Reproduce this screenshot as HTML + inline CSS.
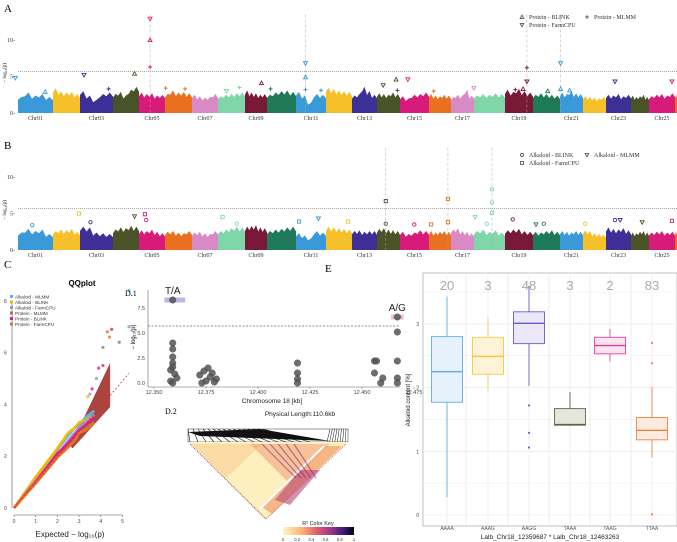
<!DOCTYPE html>
<html><head><meta charset="utf-8"><style>
body{margin:0;background:#fff;width:677px;height:542px;overflow:hidden}
svg{display:block;font-family:"Liberation Sans",sans-serif}
.serif{font-family:"Liberation Serif",serif}
</style></head><body>
<svg id="fig" width="677" height="542" viewBox="0 0 677 542">
<defs>
<linearGradient id="rkey" x1="0" x2="1" y1="0" y2="0">
<stop offset="0" stop-color="#fff5c0"/><stop offset="0.25" stop-color="#fbb878"/><stop offset="0.45" stop-color="#e8646a"/><stop offset="0.65" stop-color="#a63a86"/><stop offset="0.85" stop-color="#3d1c7a"/><stop offset="1" stop-color="#000004"/></linearGradient>
</defs>
<text x="4" y="12" font-size="11" class="serif">A</text>
<text x="4" y="149" font-size="11" class="serif">B</text>
<text x="4" y="268" font-size="11" class="serif">C</text>
<text x="325" y="272" font-size="11" class="serif">E</text>
<g id="gA"></g><g id="gB"></g><g id="gC"></g><g id="gD"></g><g id="gE"></g>
</svg>
<script>
// ---------- data ----------
const chrNames=["Chr01","Chr02","Chr03","Chr04","Chr05","Chr06","Chr07","Chr08","Chr09","Chr10","Chr11","Chr12","Chr13","Chr14","Chr15","Chr16","Chr17","Chr18","Chr19","Chr20","Chr21","Chr22","Chr23","Chr24","Chr25","Chr26"];
const chrStarts=[18,53,80,113,139,165,192,218,245,267,296,326,352,377,400,429,451,474,505,533,560,583,606,631,649,675,677];
const chrColors=["#3a9ad9","#f5c02a","#3d2f96","#4a5228","#d81b7a","#e8701f","#d98ac4","#7fd6a8","#7a1838","#1f7a5a"];
const heightsA=[[2.2,2.8,2.4,2.6,2.2],[3.4,3.0,2.8,2.9,2.6],[3.0,2.4,1.8,2.6,2.8],[2.6,2.9,2.4,3.2,3.6],[2.8,2.6,2.7,2.4,2.5],[2.6,3.1,2.8,2.9,2.7],[2.5,2.3,2.1,2.2,2.6],[2.3,2.5,2.6,2.7,2.8],[3.1,2.8,2.7,2.5,2.6],[2.5,2.8,3.0,3.1,2.9],[2.9,2.4,1.4,2.6,2.5],[3.5,3.3,3.1,3.0,2.9],[2.4,2.6,3.6,3.0,2.5],[2.7,2.6,2.5,2.8,2.6],[2.3,2.0,2.5,2.6,2.8],[2.6,2.4,2.3,2.5,2.4],[2.2,2.5,2.4,3.2,2.4],[2.4,2.6,2.5,2.7,2.6],[3.2,2.9,3.3,3.0,2.8],[2.5,2.7,2.6,2.5,2.4],[2.8,2.6,3.0,2.7,2.6],[2.3,2.2,2.1,2.0,2.2],[2.5,2.4,2.6,2.3,2.5],[2.4,2.2,2.3,2.5,2.2],[2.3,2.5,2.6,2.4,2.7],[2.5,2.6,2.4,2.6,2.5]];
const heightsB=[[2.4,2.9,2.6,2.8,2.2],[2.6,2.8,2.7,2.9,2.5],[3.2,3.1,2.4,2.3,2.2],[2.8,3.1,3.0,3.3,3.2],[2.7,2.6,2.8,2.5,2.3],[2.5,2.6,2.4,2.3,2.6],[2.4,2.5,2.3,2.2,2.6],[2.6,2.8,3.0,3.2,3.1],[3.2,3.3,3.4,3.1,3.0],[2.6,2.8,2.9,3.1,3.2],[2.3,2.0,1.6,2.6,2.4],[3.2,3.1,3.0,2.9,2.8],[2.6,2.7,2.5,2.6,2.6],[2.9,3.0,2.8,2.7,2.6],[2.5,2.2,2.4,2.7,2.6],[2.6,2.4,2.5,2.6,2.5],[2.8,3.0,2.6,2.5,2.3],[2.6,2.8,2.5,2.7,2.4],[2.7,2.8,2.9,2.6,2.5],[2.5,2.4,2.6,2.7,2.5],[2.6,2.5,2.4,2.6,2.5],[2.7,2.6,2.3,2.2,2.1],[3.1,2.9,2.8,3.0,2.7],[2.4,2.3,2.5,2.6,2.4],[2.4,2.5,2.6,2.4,2.5],[2.5,2.6,2.4,2.6,2.5]];
// markers: genome position (genome units), -log10 p, shape
const markAx=[12,35,65,84,104,116,116,116,128,143,175,185,202,209,236,236,236,248,296,306,307,315,335,366,398,404,407,407,423,433,433,440,475,519];
const markAy=[4.8,2.9,5.2,3.3,5.4,12.9,10.0,6.3,3.4,3.3,3.0,3.5,4.1,3.3,6.8,4.9,3.2,3.1,3.8,4.6,3.1,4.6,3.0,3.4,3.2,3.3,6.2,4.3,3.0,6.8,3.3,3.1,4.3,4.3];
const markAs=["d","u","d","p","u","d","u","p","p","p","d","p","u","p","d","u","p","p","d","u","p","d","p","d","p","u","p","d","u","d","u","u","d","d"];
const sigA=[116,236,407,433];
const markBx=[25,61,70,104,112,113,172,183,231,246,269,298,298,320,333,346,346,367,376,380,380,380,396,414,420,452,475,479,496,519];
const markBy=[3.4,5.0,3.8,4.6,4.9,4.1,4.5,3.6,3.9,4.3,3.9,6.7,3.6,3.5,3.5,7.0,3.8,4.5,3.6,8.3,6.5,5.1,4.2,3.5,3.6,3.6,4.1,4.1,3.8,4.0];
const markBs=["c","s","c","d","s","c","s","c","s","d","s","s","c","c","s","s","s","d","c","c","c","s","c","d","c","c","c","d","d","s"];
const sigB=[298,346,380];
// QQ
const qqExp=[0,0.5,1,1.5,2,2.5,2.8,3.0,3.3,3.7];
const qqSeries=[
 {name:"Alkaloid - MLMM",color:"#5ab4ea",obs:[0,0.55,1.1,1.65,2.25,2.8,3.1,3.2,3.5,3.75]},
 {name:"Alkaloid - BLINK",color:"#f5b800",obs:[0,0.6,1.2,1.75,2.3,2.9,3.1,3.3,3.4,3.6]},
 {name:"Alkaloid - FarmCPU",color:"#9b8fd6",obs:[0,0.52,1.05,1.55,2.05,2.6,2.9,3.1,3.3,3.6]},
 {name:"Protein - MLMM",color:"#7a8a5a",obs:[0,0.5,1.0,1.5,2.0,2.4,2.7,2.9,3.1,3.3]},
 {name:"Protein - BLINK",color:"#e0207e",obs:[0,0.5,1.0,1.55,2.1,2.5,2.8,3.0,3.2,3.5]},
 {name:"Protein - FarmCPU",color:"#e8701f",obs:[0,0.48,0.95,1.45,1.95,2.35,2.6,2.9,3.0,3.3]}];
const qqTopX=[5.3,4.3,4.4,4.5,4.1,4.85,5.3,3.9,4.1,3.8,3.6,3.5,3.4];
const qqTopY=[8.4,6.8,6.6,6.9,6.2,6.4,7.0,5.4,5.5,5.0,4.6,4.4,4.3];
const qqTopC=[0,5,5,4,3,3,2,4,4,2,4,2,1];
// D.1
const dKb=[12.359,12.359,12.359,12.359,12.359,12.359,12.358,12.360,12.361,12.358,12.359,12.376,12.374,12.378,12.372,12.377,12.380,12.375,12.373,12.379,12.419,12.419,12.419,12.419,12.456,12.457,12.460,12.456,12.459,12.467,12.467,12.467,12.467,12.467];
const dLog=[8.3,4.0,3.4,2.6,2.0,1.6,1.3,0.9,0.5,0.2,0.0,1.5,1.2,1.0,0.8,0.6,0.4,0.2,0.0,0.1,2.0,1.0,0.4,0.0,2.2,2.2,0.5,1.0,0.0,6.6,5.1,2.2,0.5,0.0];
const dTicks=[12.350,12.375,12.400,12.425,12.450,12.475];
const dYTicks=[0,2.5,5,7.5];
// E
const eCats=["AAAA","AAAG","AAGG","TAAA","TAAG","TTAA"];
const eCounts=["20","3","48","3","2","83"];
const eMin=[0.28,1.95,2.03,1.40,2.41,0.90];
const eQ1=[1.77,2.21,2.69,1.41,2.53,1.18];
const eMed=[2.25,2.49,3.01,1.42,2.66,1.33];
const eQ3=[2.80,2.79,3.19,1.67,2.79,1.53];
const eMax=[3.43,3.10,3.60,1.93,2.92,2.01];
const eOutCat=[2,2,2,5,5,5];
const eOutVal=[1.72,1.29,1.06,2.70,2.38,0.01];
const eColors=["#5aaee0","#f5c84a","#6a5acd","#5a6640","#e040a0","#f08040"];
const eFills=["#e6f1fb","#fdf3d6","#ebe7f6","#e4e6dc","#fbe3ef","#fdebdf"];
const eYTicks=[0,1,2,3];

// ---------- helpers ----------
const NS="http://www.w3.org/2000/svg";
function mk(parent,tag,a){const e=document.createElementNS(NS,tag);for(const k in a)e.setAttribute(k,a[k]);parent.appendChild(e);return e;}
function txt(parent,x,y,s,a){const e=mk(parent,"text",Object.assign({x:x,y:y},a||{}));e.textContent=s;return e;}
function shape(g,x,y,s,c,r){
 let e;
 if(s==="u")e=mk(g,"polygon",{points:`${x},${y-r} ${x-r},${y+r*0.8} ${x+r},${y+r*0.8}`,fill:"none",stroke:c,"stroke-width":0.9});
 else if(s==="d")e=mk(g,"polygon",{points:`${x},${y+r} ${x-r},${y-r*0.8} ${x+r},${y-r*0.8}`,fill:"none",stroke:c,"stroke-width":0.9});
 else if(s==="p")e=mk(g,"path",{d:`M${x-r} ${y}H${x+r}M${x} ${y-r}V${y+r}`,stroke:c,"stroke-width":1});
 else if(s==="s")e=mk(g,"rect",{x:x-r*0.8,y:y-r*0.8,width:r*1.6,height:r*1.6,fill:"none",stroke:c,"stroke-width":0.9});
 else if(s==="c")e=mk(g,"circle",{cx:x,cy:y,r:r*0.85,fill:"none",stroke:c,"stroke-width":0.9});
 else e=mk(g,"polygon",{points:`${x},${y-r} ${x+r},${y} ${x},${y+r} ${x-r},${y}`,fill:"none",stroke:c,"stroke-width":0.9});
 return e;
}
const gx=u=>18+(u-14)*1.295;
function chrOf(x){for(let i=0;i<chrStarts.length-1;i++)if(x<chrStarts[i+1])return i;return 0;}

// ---------- Manhattan ----------
function manhattan(gid,y0,heights,mx,my,ms,sig,sigTop,legend,ly){
 const g=document.getElementById(gid);
 const Y=v=>y0-7.3*v;
 [0,5,10].forEach(t=>{
  const tl=txt(g,15,Y(t)+2,t+"-",{"font-size":6,"text-anchor":"end",class:"serif",fill:"#333"});
  
  
 });
 const yl=txt(g,6,Y(5.5),"− log₁₀(p)",{"font-size":5,transform:`rotate(-90 6 ${Y(5.5)})`,"text-anchor":"middle",class:"serif"});
 
 
 for(let i=0;i<chrNames.length;i++){
  const x0=chrStarts[i],x1=chrStarts[i+1],h=heights[i],n=h.length,w=(x1-x0);
  let pts=`${x0},${Y(0)} `;
  for(let j=0;j<n;j++){const xx=x0+w*(j+0.5)/n;pts+=`${xx-w/(2*n)},${Y(h[j]*0.82)} ${xx},${Y(h[j])} `;}
  pts+=`${x1},${Y(h[n-1]*0.8)} ${x1},${Y(0)}`;
  const p=mk(g,"polygon",{points:pts,fill:chrColors[i%10]});
  
  
  if(i%2===0&&i<25){
   const t=txt(g,(x0+x1)/2,Y(0)+7,chrNames[i],{"font-size":6,"text-anchor":"middle",class:"serif",fill:"#333"});
   
   
  }
 }
 const th=mk(g,"line",{x1:18,x2:677,y1:Y(5.7),y2:Y(5.7),stroke:"#888","stroke-width":0.7,"stroke-dasharray":"1,1"});
 
 
 sig.forEach(x=>{
  const l=mk(g,"line",{x1:gx(x),x2:gx(x),y1:Y(sigTop),y2:Y(0),stroke:"#aaa","stroke-width":0.5,"stroke-dasharray":"3,2"});
  
  
 });
 for(let i=0;i<mx.length;i++){
  const px=gx(mx[i]);
  const e=shape(g,px,Y(my[i]),ms[i],chrColors[chrOf(px)%10],2);
  
  
 }
 legend.forEach((L,i)=>{
  const lx=L[2],yy=ly+L[3];
  shape(g,lx,yy-2,L[1],"#555",1.8);
  const t=txt(g,lx+7,yy,L[0],{"font-size":6,class:"serif",fill:"#333"});
  
  
 });
}
manhattan("gA",113,heightsA,markAx,markAy,markAs,sigA,13.5,[["Protein - BLINK","u",522,0],["Protein - FarmCPU","d",522,8],["Protein - MLMM","p",587,0]],19);
manhattan("gB",250,heightsB,markBx,markBy,markBs,sigB,14,[["Alkaloid - BLINK","c",522,0],["Alkaloid - FarmCPU","s",522,8],["Alkaloid - MLMM","d",587,0]],157);

// ---------- QQ ----------
(function(){
 const g=document.getElementById("gC");
 const X=v=>14+21.7*v,Y=v=>508-25.9*v;
 txt(g,82,286,"QQplot",{"font-size":8,"font-weight":"bold","text-anchor":"middle"});
 mk(g,"line",{x1:12,y1:Y(0),x2:12,y2:Y(8),stroke:"#555","stroke-width":0.6});
 mk(g,"line",{x1:X(0),y1:515,x2:X(5),y2:515,stroke:"#555","stroke-width":0.6});
 [0,2,4,6,8].forEach(t=>{txt(g,4,Y(t)+2,String(t),{"font-size":5,fill:"#444"});});
 [0,1,2,3,4,5].forEach(t=>{mk(g,"line",{x1:X(t),x2:X(t),y1:515,y2:517,stroke:"#555","stroke-width":0.5});txt(g,X(t),523,String(t),{"font-size":5,"text-anchor":"middle",fill:"#444"});});
 const xl=txt(g,70,537,"Expected   − log₁₀(p)",{"font-size":8,"text-anchor":"middle",fill:"#222"});
 
 
 const band=mk(g,"polygon",{points:`${X(2.6)},${Y(2.4)} ${X(4.43)},${Y(5.6)} ${X(4.43)},${Y(3.9)} ${X(2.7)},${Y(2.3)}`,fill:"#a0302a",opacity:0.9});
 
 
 qqSeries.forEach(s=>{
  const pts=qqExp.map((e,i)=>`${X(e)},${Y(s.obs[i])}`).join(" ");
  const pl=mk(g,"polyline",{points:pts,fill:"none",stroke:s.color,"stroke-width":2.6,"stroke-linejoin":"round"});
  
  
 });
 for(let i=0;i<qqTopX.length;i++){
  const c=mk(g,"circle",{cx:X(qqTopX[i]),cy:Y(qqTopY[i]),r:1.6,fill:qqSeries[qqTopC[i]].color,opacity:0.8});
  
  
 }
 mk(g,"line",{x1:X(0),y1:Y(0),x2:X(5.3),y2:Y(5.2),stroke:"#e53030","stroke-width":0.8,"stroke-dasharray":"2,2"});
 qqSeries.forEach((s,i)=>{
  mk(g,"rect",{x:10,y:295+i*5.5,width:3,height:3,fill:s.color});
  const t=txt(g,15,298.5+i*5.5,s.name,{"font-size":4.6,fill:"#333"});
  
  
 });
})();

// ---------- D.1 / D.2 ----------
(function(){
 const g=document.getElementById("gD");
 const X=kb=>154+(kb-12.350)*2080,Y=v=>383-10*v;
 txt(g,125,296,"D.1",{"font-size":8,class:"serif"});
 mk(g,"line",{x1:148,y1:290,x2:148,y2:387,stroke:"#666","stroke-width":0.6});
 mk(g,"line",{x1:148,y1:387,x2:400,y2:387,stroke:"#666","stroke-width":0.6});
 dYTicks.forEach(t=>{txt(g,145,Y(t)+2,t.toFixed(1),{"font-size":5.5,"text-anchor":"end",fill:"#444"});});
 dTicks.forEach(t=>{mk(g,"line",{x1:X(t),x2:X(t),y1:387,y2:389,stroke:"#666","stroke-width":0.5});txt(g,X(t),394,t.toFixed(3),{"font-size":5.5,"text-anchor":"middle",fill:"#444"});});
 txt(g,135,337,"− log₁₀(p)",{"font-size":6,transform:"rotate(-90 135 337)","text-anchor":"middle"});
 txt(g,272,403,"Chromosome 18 [kb]",{"font-size":6.5,"text-anchor":"middle",fill:"#222"});
 mk(g,"line",{x1:148,x2:400,y1:Y(5.7),y2:Y(5.7),stroke:"#666","stroke-width":0.7,"stroke-dasharray":"2,1.5"});
 mk(g,"rect",{x:X(12.355),y:Y(8.3)-2.5,width:X(12.365)-X(12.355),height:5,fill:"#b8b8e8"});
 mk(g,"rect",{x:X(12.464),y:Y(6.6)-2.5,width:X(12.470)-X(12.464),height:5,fill:"#eebcbc"});
 txt(g,X(12.359),Y(8.3)-6,"T/A",{"font-size":10,"text-anchor":"middle",fill:"#222"});
 txt(g,X(12.467),Y(6.6)-6,"A/G",{"font-size":10,"text-anchor":"middle",fill:"#222"});
 for(let i=0;i<dKb.length;i++){
  const c=mk(g,"circle",{cx:X(dKb[i]),cy:Y(dLog[i]),r:3.3,fill:"#555",stroke:"#333","stroke-width":0.4,opacity:0.85});
  
  
 }
 // D.2
 txt(g,165,414,"D.2",{"font-size":8,class:"serif"});
 txt(g,300,416,"Physical Length:110.6kb",{"font-size":6.5,"text-anchor":"middle",fill:"#222"});
 mk(g,"rect",{x:188,y:429,width:160,height:13,fill:"#fff",stroke:"#333","stroke-width":0.5});
 for(let i=0;i<16;i++){mk(g,"line",{x1:188+i*5,y1:429,x2:190+i*8,y2:442,stroke:"#111","stroke-width":0.6});}
 mk(g,"polygon",{points:"188,432 260,429 330,441 200,436",fill:"#111"});
 for(let i=0;i<8;i++){mk(g,"line",{x1:330+i*2.3,y1:429,x2:327+i*2.6,y2:442,stroke:"#111","stroke-width":0.5});}
 const tri=mk(g,"polygon",{points:"188,442 348,442 265,520",fill:"#fdf0be"});
 
 
 mk(g,"polygon",{points:"192,444 262,444 226,478",fill:"#f9c38a",opacity:0.5});
 mk(g,"polygon",{points:"250,444 330,444 290,484",fill:"#ee8a6a",opacity:0.45});
 mk(g,"polygon",{points:"326,446 342,446 272,514 262,507",fill:"#f3a878",opacity:0.8});
 mk(g,"polygon",{points:"300,470 320,470 290,505 275,500",fill:"#b8487a",opacity:0.6});
 mk(g,"line",{x1:324,y1:446,x2:260,y2:509,stroke:"#fff","stroke-width":2});
 mk(g,"line",{x1:190,y1:444,x2:266,y2:519,stroke:"#7a2a8a","stroke-width":0.8,"stroke-dasharray":"1,1"});
 mk(g,"line",{x1:346,y1:444,x2:266,y2:519,stroke:"#d04a6a","stroke-width":0.8,"stroke-dasharray":"1,1"});
 for(let i=0;i<5;i++){mk(g,"line",{x1:262+i*8,y1:444,x2:296+i*5,y2:478,stroke:"#8a2a8a","stroke-width":1.2,opacity:0.6});}
 mk(g,"rect",{x:283,y:527,width:71,height:8,fill:"url(#rkey)"});
 txt(g,318,525,"R² Color Key",{"font-size":5.5,"text-anchor":"middle",fill:"#222"});
 ["0","0.2","0.4","0.6","0.8","1"].forEach((s,i)=>{txt(g,283+i*14.2,541,s,{"font-size":4.2,"text-anchor":"middle",fill:"#333"});});
})();

// ---------- E boxplot ----------
(function(){
 const g=document.getElementById("gE");
 const Y=v=>515-63.7*v,cx=[447,488,529,570,610,652],bw=31;
 mk(g,"rect",{x:423,y:273,width:254,height:253,fill:"#fff",stroke:"#999","stroke-width":0.6});
 [0,0.5,1,1.5,2,2.5,3,3.5].forEach(t=>{mk(g,"line",{x1:423,x2:677,y1:Y(t),y2:Y(t),stroke:"#ececec","stroke-width":t%1===0?0.8:0.5});});
 cx.forEach(x=>mk(g,"line",{x1:x,x2:x,y1:273,y2:526,stroke:"#ececec","stroke-width":0.8}));
 [466,508,549,590,631].forEach(x=>mk(g,"line",{x1:x,x2:x,y1:273,y2:526,stroke:"#e2e2e2","stroke-width":0.6}));
 eYTicks.forEach(t=>{txt(g,419,Y(t)+2,String(t),{"font-size":5,"text-anchor":"end",fill:"#444"});});
 const yl=txt(g,410,400,"Alkaloid content [%]",{"font-size":6,transform:"rotate(-90 410 400)","text-anchor":"middle",fill:"#222"});
 
 
 const xl=txt(g,550,539,"Lalb_Chr18_12359687 * Lalb_Chr18_12463263",{"font-size":6.5,"text-anchor":"middle",fill:"#222"});
 
 
 for(let i=0;i<eCats.length;i++){
  const x=cx[i],c=eColors[i];
  mk(g,"line",{x1:x,x2:x,y1:Y(eMax[i]),y2:Y(eMin[i]),stroke:c,"stroke-width":0.9});
  const b=mk(g,"rect",{x:x-bw/2,y:Y(eQ3[i]),width:bw,height:Y(eQ1[i])-Y(eQ3[i]),fill:eFills[i],stroke:c,"stroke-width":0.9});
  
  
  mk(g,"line",{x1:x-bw/2,x2:x+bw/2,y1:Y(eMed[i]),y2:Y(eMed[i]),stroke:c,"stroke-width":1.4});
  const lab=txt(g,x,530,eCats[i],{"font-size":5,"text-anchor":"middle",fill:"#555"});
  
  
  const n=txt(g,x,290,eCounts[i],{"font-size":13,"text-anchor":"middle",fill:"#aaa"});
  
  
 }
 for(let i=0;i<eOutVal.length;i++){
  const o=mk(g,"circle",{cx:cx[eOutCat[i]],cy:Y(eOutVal[i]),r:1.1,fill:eColors[eOutCat[i]]});
  
  
 }
})();
</script>
</body></html>
